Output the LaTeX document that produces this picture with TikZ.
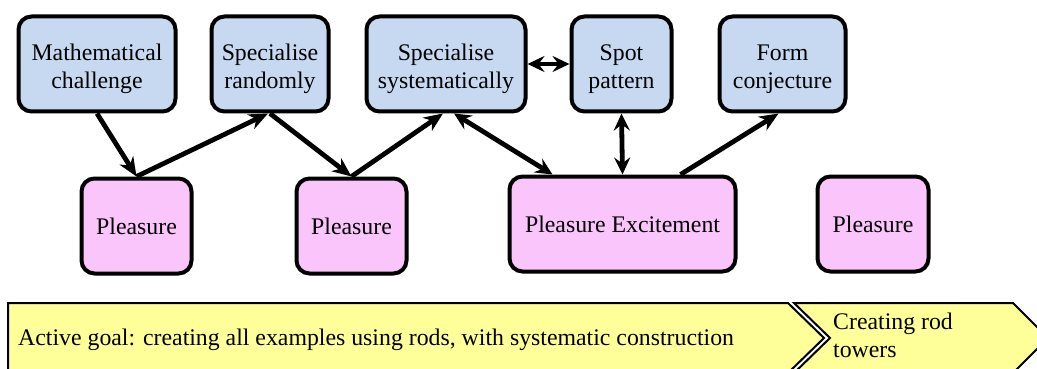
\documentclass[tikz,border=0pt]{standalone}
\usepackage{fontspec}
\setmainfont{Liberation Serif}
\usetikzlibrary{arrows.meta}
\definecolor{boxblue}{RGB}{198,217,241}
\definecolor{boxpink}{RGB}{250,197,250}
\definecolor{goalyellow}{RGB}{255,255,153}
\begin{document}
\begin{tikzpicture}[x=1pt,y=-1pt,
  every node/.style={font=\fontsize{23.8}{28}\selectfont, inner sep=0pt},
  stage/.style={draw, line width=4pt, rounded corners=13pt, fill=boxblue,
    align=center, minimum height=95pt, text height=54pt},
  feel/.style={draw, line width=4pt, rounded corners=13pt, fill=boxpink,
    align=center, minimum height=95pt},
  link/.style={line width=4.8pt, -{Stealth[length=19pt,width=16pt,inset=6pt]}},
  bilink/.style={line width=4.8pt, {Stealth[length=17pt,width=16pt,inset=6pt]}-{Stealth[length=17pt,width=16pt,inset=6pt]}},
  goal/.style={draw, line width=2pt, fill=goalyellow, line join=miter},
]
\useasboundingbox (0,0) rectangle (1037,369);
\clip (0,0) rectangle (1037,369);

% problem-solving stages
\node[stage, minimum width=157pt] (mc) at (97,64) {Mathematical\\challenge};
\node[stage, minimum width=117pt] (sr) at (270,64) {Specialise\\randomly};
\node[stage, minimum width=159pt] (ss) at (446,64) {Specialise\\systematically};
\node[stage, minimum width=100pt] (sp) at (621.5,64) {Spot\\pattern};
\node[stage, minimum width=126pt] (fc) at (782.5,64) {Form\\conjecture};

% affective responses
\node[feel, minimum width=110pt] (p1) at (136.5,226) {Pleasure};
\node[feel, minimum width=110pt] (p2) at (351.5,226) {Pleasure};
\node[feel, minimum width=226pt] (pe) at (622.5,224) {Pleasure Excitement};
\node[feel, minimum width=111pt] (p4) at (873,224) {Pleasure};

% transitions
\draw[link] (mc.south) -- (p1.north);
\draw[link] (p1.north) -- ([xshift=-2pt]sr.south);
\draw[link] (sr.south) -- (p2.north);
\draw[link] (p2.north) -- ([xshift=-3pt]ss.south);
\draw[bilink] ([xshift=8pt]ss.south) -- ([xshift=-70pt]pe.north);
\draw[bilink] (ss.east) -- (sp.west);
\draw[bilink] (sp.south) -- (pe.north);
\draw[link] ([xshift=58pt]pe.north) -- ([xshift=-4pt]fc.south);

% goal banner
\draw[goal] (8,303) -- (788,303) -- (824,338) -- (788,373) -- (8,373) -- cycle;
\draw[goal] (794,303) -- (1013,303) -- (1048,338) -- (1013,373) -- (794,373) -- (830,338) -- cycle;
\node[anchor=west] (ag) at (18,340) {Active goal: creating all examples using rods, with systematic construction};
\node[anchor=north west, align=left] (rt) at (833,313) {Creating rod\\towers};
\end{tikzpicture}
\end{document}
